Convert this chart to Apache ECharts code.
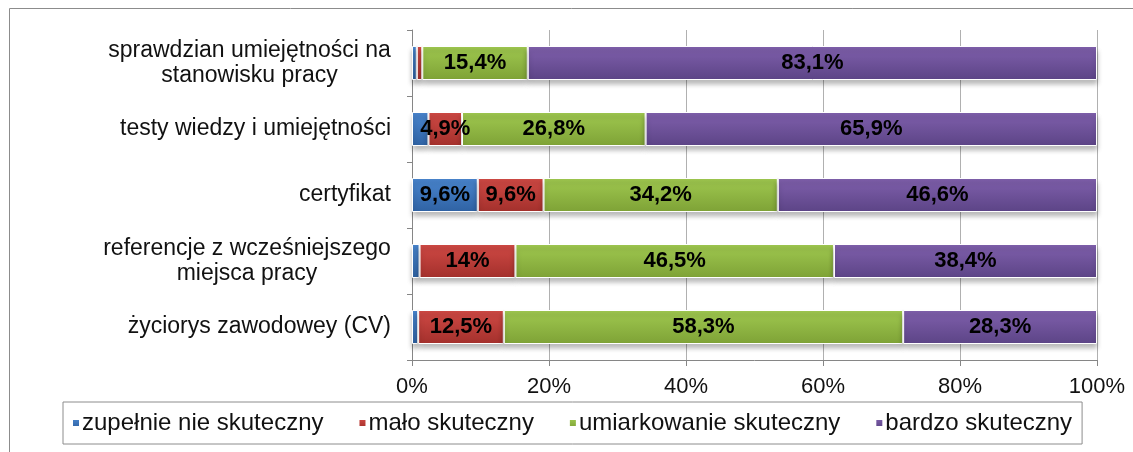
<!DOCTYPE html>
<html>
<head>
<meta charset="utf-8">
<script src="https://cdn.jsdelivr.net/npm/echarts@6/dist/echarts.min.js"></script>
<style>html,body{margin:0;padding:0;background:#fff}#c{width:1133px;height:452px}</style>
</head>
<body>
<div id="c"></div>
<script>
const categories = [
  "sprawdzian umiejętności na\nstanowisku pracy",
  "testy wiedzy i umiejętności",
  "certyfikat",
  "referencje z wcześniejszego\nmiejsca pracy",
  "życiorys zawodowey (CV)"
];
const seriesNames = ["zupełnie nie skuteczny", "mało skuteczny", "umiarkowanie skuteczny", "bardzo skuteczny"];
const zupelnieNie = [0.7, 2.4, 9.6, 1.1, 0.9];
const malo = [0.8, 4.9, 9.6, 14, 12.5];
const umiarkowanie = [15.4, 26.8, 34.2, 46.5, 58.3];
const bardzo = [83.1, 65.9, 46.6, 38.4, 28.3];
const xTicks = [0, 20, 40, 60, 80, 100];

const FONT = 'Liberation Sans, Arial, sans-serif';
const FS_CAT = 23, FS_TICK = 22, FS_LBL = 22, FS_LEG = 24;
const colors = [
  ['#4a86cf', '#2f62a3'],
  ['#d14a45', '#a3302c'],
  ['#a0c950', '#7ea236'],
  ['#8060ad', '#5c4486']
];
const values = [zupelnieNie, malo, umiarkowanie, bardzo];

const cv = document.createElement('canvas').getContext('2d');
cv.font = FS_CAT + 'px ' + FONT;
const rich = {};
const fmtMap = {};
categories.forEach((c, i) => {
  const lines = c.split('\n');
  if (lines.length > 1) {
    const w = Math.ceil(Math.max(...lines.map(l => cv.measureText(l).width)));
    const key = 'r' + i;
    rich[key] = {width: w, align: 'center', fontSize: FS_CAT, fontFamily: FONT, color: '#111', lineHeight: 25};
    fmtMap[c] = lines.map(l => '{' + key + '|' + l + '}').join('\n');
  }
});

cv.font = FS_LEG + 'px ' + FONT;
const legTextW = seriesNames.reduce((s, n) => s + cv.measureText(n).width, 0);
const legInner = 1000;
const legGap = Math.max(6, Math.floor((legInner - legTextW - seriesNames.length * (8 + 2)) / (seriesNames.length - 1)));

const series = values.map((arr, si) => ({
  name: seriesNames[si],
  type: 'bar',
  stack: 'total',
  barWidth: 34,
  data: arr,
  itemStyle: {
    color: new echarts.graphic.LinearGradient(0, 0, 0, 1, [
      {offset: 0, color: colors[si][0]}, {offset: 1, color: colors[si][1]}
    ]),
    borderColor: '#fff',
    borderWidth: 1,
    shadowColor: 'rgba(0,0,0,0.28)',
    shadowBlur: 5,
    shadowOffsetY: 4
  },
  label: {
    show: true,
    position: 'inside',
    fontSize: FS_LBL,
    fontWeight: 'bold',
    fontFamily: FONT,
    color: '#000',
    formatter: p => p.value >= 4 ? String(p.value).replace('.', ',') + '%' : ''
  },
  emphasis: {disabled: true}
}));

const chart = echarts.init(document.getElementById('c'), null, {renderer: 'canvas'});
chart.setOption({
  animation: false,
  backgroundColor: '#fff',
  color: colors.map(c => c[0]),
  grid: {left: 412, right: 36, top: 30, bottom: 92, containLabel: false},
  xAxis: {
    type: 'value',
    min: xTicks[0],
    max: xTicks[xTicks.length - 1],
    interval: xTicks[1] - xTicks[0],
    axisLine: {show: true, lineStyle: {color: '#868686', width: 1}},
    axisTick: {show: true, length: 6, lineStyle: {color: '#868686'}},
    axisLabel: {formatter: '{value}%', fontSize: FS_TICK, fontFamily: FONT, color: '#111', margin: 16},
    splitLine: {show: true, lineStyle: {color: '#b0b0b0', width: 1}}
  },
  yAxis: {
    type: 'category',
    inverse: true,
    data: categories,
    axisLine: {show: true, lineStyle: {color: '#868686', width: 1}},
    axisTick: {show: true, length: 5, lineStyle: {color: '#868686'}},
    axisLabel: {
      fontSize: FS_CAT, fontFamily: FONT, color: '#111', margin: 21, lineHeight: 25,
      formatter: v => fmtMap[v] || v,
      rich: rich
    }
  },
  legend: {
    data: seriesNames,
    left: 63,
    top: 402,
    width: 1060,
    padding: [9, 10, 9, 8],
    borderColor: '#8c8c8c',
    borderWidth: 1,
    itemWidth: 8,
    itemHeight: 8,
    itemGap: legGap,
    icon: 'rect',
    textStyle: {fontSize: FS_LEG, fontFamily: FONT, color: '#111', padding: [0, 0, 0, -3]}
  },
  graphic: [{
    type: 'rect',
    shape: {x: 9.5, y: 8.5, width: 1140, height: 460},
    style: {fill: 'none', stroke: '#8c8c8c', lineWidth: 1},
    silent: true,
    z: -1
  }],
  series: series
});
</script>
</body>
</html>
